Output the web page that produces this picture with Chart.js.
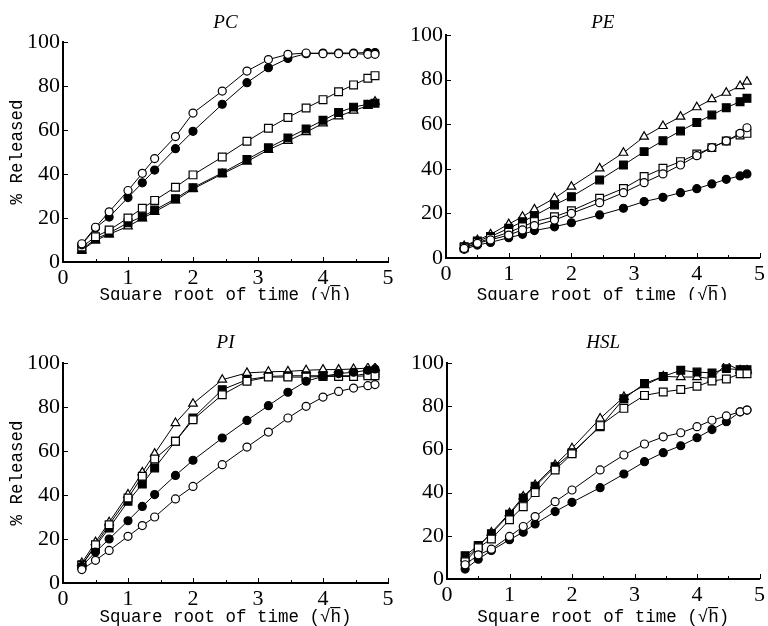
<!DOCTYPE html>
<html>
<head>
<meta charset="utf-8">
<script src="https://cdn.jsdelivr.net/npm/chart.js@4.4.1/dist/chart.umd.min.js"></script>
<style>
  html, body { margin: 0; padding: 0; background: #fff; }
  #wrap { position: relative; width: 768px; height: 626px; overflow: hidden; }
  canvas { position: absolute; }
</style>
</head>
<body>
<div id="wrap">
  <canvas id="pcChart" width="400" height="300" style="left:0;top:0"></canvas>
  <canvas id="peChart" width="384" height="300" style="left:384px;top:0"></canvas>
  <canvas id="piChart" width="400" height="326" style="left:0;top:300px"></canvas>
  <canvas id="hslChart" width="384" height="326" style="left:384px;top:300px"></canvas>
</div>
<script>
// --- Dados (raiz quadrada do tempo, h^0.5) ---
const sqrtTime = [0.29, 0.5, 0.71, 1, 1.22, 1.41, 1.73, 2, 2.45, 2.83, 3.16, 3.46, 3.74, 4, 4.24, 4.47, 4.69, 4.8];
const xTicks = [0, 1, 2, 3, 4, 5];
const yTicks = [0, 20, 40, 60, 80, 100];

// PC
const pcOpenCircle   = [8.3, 15.8, 22.8, 32.5, 40.3, 47, 57, 67.7, 77.7, 86.8, 92, 94.4, 95, 94.7, 94.7, 94.7, 94.4, 94.4];
const pcFilledCircle = [7.8, 15.5, 20.4, 29.3, 36, 41.8, 51.5, 59.4, 71.7, 81.5, 88.3, 92.5, 94.7, 95, 95, 95, 95.2, 95.2];
const pcOpenSquare   = [6.8, 11.5, 14.5, 20, 24.4, 28, 34, 39.6, 47.7, 54.9, 60.8, 65.7, 70, 73.8, 77.4, 80.5, 83.5, 84.7];
const pcFilledSquare = [5.7, 10.5, 13.2, 17.8, 20.6, 23.6, 28.8, 33.8, 40.5, 46.6, 51.9, 56.4, 60.5, 64.4, 68, 70.4, 71.7, 72.2];
const pcTriangle     = [5.3, 9.8, 12.6, 16.2, 19.8, 22.8, 28, 33.2, 40, 45.6, 51, 55, 59, 63, 66.2, 68.8, 71, 72.9];

// PE
const peOpenCircle   = [4.3, 6.6, 8.1, 10.3, 12.6, 14.5, 17, 20, 24.8, 29.3, 33.8, 37.7, 41.7, 45.9, 49.5, 52.5, 55.9, 58.4];
const peFilledCircle = [3.9, 5.8, 7, 9.1, 10.6, 12.3, 14, 15.8, 19.3, 22.3, 25.3, 27.2, 29.3, 31.1, 33.2, 35.3, 36.8, 37.7];
const peOpenSquare   = [4.6, 6.9, 8.8, 11.5, 14, 16.3, 18.5, 21.2, 26.8, 31.2, 36.5, 40.2, 43.2, 46.6, 49.5, 52.5, 55.2, 55.9];
const peFilledSquare = [5.1, 7.6, 9.6, 13.3, 16.3, 19, 23.8, 27.5, 35, 41.7, 47.7, 52.6, 57, 60.8, 64.1, 67.4, 70.1, 71.6];
const peTriangle     = [5.4, 8, 10.6, 15.2, 18.5, 21.8, 26.8, 32, 40.2, 47.2, 54.4, 59.2, 63.4, 67.6, 71.2, 74.1, 77.1, 79.1];

// PI
const piOpenCircle   = [6.1, 10.3, 14.8, 21.2, 26.1, 30, 38.2, 43.9, 53.8, 61.8, 68.6, 75, 80.3, 84.5, 87.1, 88.6, 89.7, 90.2];
const piFilledCircle = [7.6, 14.1, 20, 28.3, 34.8, 40.2, 48.9, 55.8, 65.9, 73.9, 80.6, 86.7, 91.7, 93.9, 95.2, 95.8, 96.7, 97.3];
const piOpenSquare   = [8, 17.4, 26.5, 38.6, 48.5, 56.4, 64.4, 74.2, 85.6, 91.7, 93.6, 93.6, 93.6, 93.9, 93.9, 93.9, 94.2, 94.2];
const piFilledSquare = [8.3, 16.7, 25, 37.1, 45, 52.3, 64.4, 75, 87.9, 92.4, 93.9, 94.2, 94.2, 94.2, 94.2, 94.2, 95.2, 95.2];
const piTriangle     = [9.1, 18.6, 27.6, 40.2, 50.3, 58.8, 72.7, 81.5, 92.4, 95.5, 96, 96.2, 96.7, 97, 97, 97.3, 97.7, 97.7];

// HSL
const hslOpenCircle   = [6.6, 11.2, 13.8, 19.7, 24.3, 28.9, 35.8, 41.2, 50.5, 57.4, 62.5, 65.8, 67.7, 70.5, 73.5, 75.5, 77.4, 78.2];
const hslFilledCircle = [4.6, 9.2, 13.2, 18.2, 21.7, 25.5, 31.2, 35.5, 42.3, 48.6, 54.3, 58.5, 61.7, 65.4, 69.2, 72.8, 77.4, 78.2];
const hslOpenSquare   = [8, 14.5, 18.5, 27.4, 33.5, 40, 50.5, 58, 71, 79, 85, 86.6, 87.7, 89.2, 91.7, 92.6, 95, 95];
const hslFilledSquare = [10.8, 15.5, 21, 30, 37.5, 43, 52, 58.5, 70.5, 83.5, 90.5, 93.8, 96.6, 95.8, 95.4, 97.4, 96.9, 96.9];
const hslTriangle     = [9.5, 14.8, 21.5, 30.5, 38.2, 43.5, 52.8, 60.5, 74.3, 84.3, 89.7, 93.8, 93.5, 93.5, 92.8, 99.7, 96.6, 96.6];

// --- Estilos dos marcadores (○ ● □ ■ △) ---
const markerStyles = [
    { pointStyle: 'circle', fill: '#fff', radius: 4 },
    { pointStyle: 'circle', fill: '#000', radius: 4 },
    { pointStyle: 'rect', fill: '#fff', radius: 5.5 },
    { pointStyle: 'rect', fill: '#000', radius: 5.5 },
    { pointStyle: 'triangle', fill: '#fff', radius: 5 }
];

const tickFont = { family: "'Liberation Serif', 'DejaVu Serif', serif", size: 22 };
const labelFont = { family: "'Liberation Mono', 'DejaVu Sans Mono', monospace", size: 17.5 };

// marcas dos eixos voltadas para dentro
const inwardTicks = {
    id: 'inwardTicks',
    afterDraw(chart) {
        const { ctx, chartArea, scales: { x, y } } = chart;
        ctx.save();
        ctx.strokeStyle = '#000';
        ctx.lineWidth = 1;
        ctx.beginPath();
        x.ticks.forEach(t => {
            if (t.value <= 0) return;
            const px = Math.round(x.getPixelForValue(t.value)) + 0.5;
            ctx.moveTo(px, chartArea.bottom);
            ctx.lineTo(px, chartArea.bottom - 5);
            const half = Math.round(x.getPixelForValue(t.value - 0.5)) + 0.5;
            ctx.moveTo(half, chartArea.bottom);
            ctx.lineTo(half, chartArea.bottom - 3);
        });
        y.ticks.forEach(t => {
            if (t.value <= 0) return;
            const py = Math.round(y.getPixelForValue(t.value)) + 0.5;
            ctx.moveTo(chartArea.left, py);
            ctx.lineTo(chartArea.left + 5, py);
        });
        ctx.stroke();
        ctx.restore();
    }
};

function makePanel(id, title, seriesList, cfg) {
    const datasets = seriesList.map((values, i) => {
        const m = markerStyles[i];
        return {
            data: values.map((v, k) => ({ x: sqrtTime[k], y: v })),
            showLine: true,
            borderColor: '#000',
            borderWidth: 1,
            pointStyle: m.pointStyle,
            pointRadius: m.radius,
            pointBackgroundColor: m.fill,
            pointBorderColor: '#000',
            pointBorderWidth: 1.2
        };
    });

    return new Chart(document.getElementById(id), {
        type: 'scatter',
        data: { datasets: datasets },
        plugins: [inwardTicks],
        options: {
            responsive: false,
            animation: false,
            devicePixelRatio: 1,
            layout: { padding: { left: 0, right: cfg.padRight, top: 0, bottom: 0 } },
            plugins: {
                legend: { display: false },
                tooltip: { enabled: false },
                title: {
                    display: true,
                    text: title,
                    fullSize: false,
                    color: '#000',
                    font: { family: "'Liberation Serif', 'DejaVu Serif', serif", size: 19, style: 'italic', weight: 'normal' },
                    padding: { top: cfg.titleTop, bottom: cfg.titleBottom }
                }
            },
            scales: {
                x: {
                    type: 'linear',
                    min: 0,
                    max: 5,
                    afterBuildTicks: s => { s.ticks = xTicks.map(v => ({ value: v })); },
                    afterFit: s => { s.height = cfg.xHeight; },
                    grid: { display: false, drawTicks: false },
                    border: { display: true, color: '#000', width: 2 },
                    ticks: { color: '#000', font: tickFont, padding: 3, maxRotation: 0 },
                    title: {
                        display: true,
                        text: 'Square root of time (\u221Ah\u0305)',
                        color: '#000',
                        font: labelFont,
                        padding: { top: 0, bottom: cfg.xTitleBottom }
                    }
                },
                y: {
                    min: 0,
                    max: 100,
                    afterBuildTicks: s => { s.ticks = yTicks.map(v => ({ value: v })); },
                    afterFit: s => { s.width = cfg.yWidth; },
                    grid: { display: false, drawTicks: false },
                    border: { display: true, color: '#000', width: 2 },
                    ticks: { color: '#000', font: tickFont, padding: 3 },
                    title: {
                        display: cfg.showYTitle,
                        text: '% Released',
                        color: '#000',
                        font: labelFont,
                        padding: { top: 7, bottom: 0 }
                    }
                }
            }
        }
    });
}

// --- Inicialização ---
makePanel('pcChart', 'PC',
    [pcOpenCircle, pcFilledCircle, pcOpenSquare, pcFilledSquare, pcTriangle],
    { padRight: 12, titleTop: 11.6, titleBottom: 7.6, xHeight: 38, xTitleBottom: -6, yWidth: 63, showYTitle: true });

makePanel('peChart', 'PE',
    [peOpenCircle, peFilledCircle, peOpenSquare, peFilledSquare, peTriangle],
    { padRight: 2, titleTop: 11.6, titleBottom: 0.6, xHeight: 42, xTitleBottom: -6, yWidth: 62, showYTitle: false });

makePanel('piChart', 'PI',
    [piOpenCircle, piFilledCircle, piOpenSquare, piFilledSquare, piTriangle],
    { padRight: 12, titleTop: 31.6, titleBottom: 8.6, xHeight: 43, xTitleBottom: -1.5, yWidth: 63, showYTitle: true });

makePanel('hslChart', 'HSL',
    [hslOpenCircle, hslFilledCircle, hslOpenSquare, hslFilledSquare, hslTriangle],
    { padRight: 2, titleTop: 31.6, titleBottom: 8.6, xHeight: 47, xTitleBottom: -1.5, yWidth: 63, showYTitle: false });
</script>
</body>
</html>
